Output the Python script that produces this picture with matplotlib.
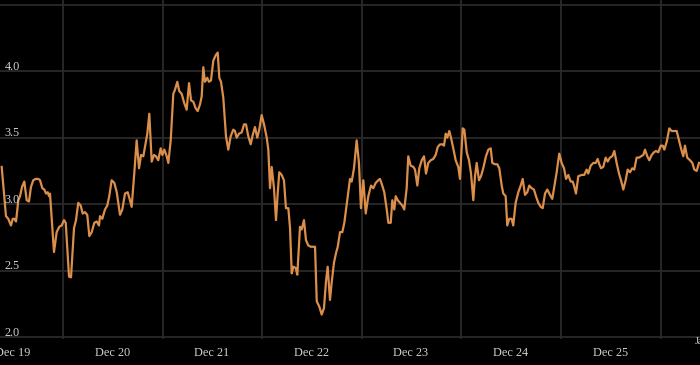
import matplotlib
matplotlib.use('Agg')
import matplotlib.pyplot as plt

# decimal year of each point and its value
dates = [
    2019.807, 2019.850, 2019.873, 2019.900, 2019.918, 2019.934, 2019.951, 2019.974, 2019.991,
    2020.011, 2020.034, 2020.058, 2020.081, 2020.101, 2020.124, 2020.148, 2020.175, 2020.192,
    2020.215, 2020.235, 2020.252, 2020.269, 2020.282, 2020.292, 2020.332, 2020.359, 2020.385,
    2020.409, 2020.433, 2020.450, 2020.483, 2020.503, 2020.533, 2020.553, 2020.576, 2020.600,
    2020.620, 2020.643, 2020.666, 2020.687, 2020.711, 2020.737, 2020.761, 2020.784, 2020.794,
    2020.817, 2020.844, 2020.867, 2020.887, 2020.911, 2020.938, 2020.962, 2020.995,
    2021.018, 2021.045, 2021.072, 2021.095, 2021.112, 2021.138, 2021.162, 2021.186, 2021.206,
    2021.229, 2021.253, 2021.269, 2021.289, 2021.313, 2021.336, 2021.356, 2021.379, 2021.403,
    2021.420, 2021.440, 2021.464, 2021.480, 2021.504, 2021.530, 2021.547, 2021.570, 2021.590,
    2021.614, 2021.640, 2021.664, 2021.688, 2021.708, 2021.731, 2021.755, 2021.775, 2021.798,
    2021.815, 2021.831, 2021.848, 2021.871, 2021.888, 2021.908, 2021.932, 2021.956, 2021.976,
    2021.992, 2022.009, 2022.032, 2022.059, 2022.082, 2022.106, 2022.132, 2022.149, 2022.166,
    2022.190, 2022.217, 2022.240, 2022.260, 2022.283, 2022.307, 2022.327, 2022.350, 2022.373,
    2022.393, 2022.417, 2022.441, 2022.468, 2022.484, 2022.501, 2022.518, 2022.541, 2022.561,
    2022.578, 2022.594, 2022.618, 2022.641, 2022.661, 2022.685, 2022.702, 2022.719, 2022.735,
    2022.759, 2022.775, 2022.802, 2022.819, 2022.842, 2022.862, 2022.885, 2022.909, 2022.953,
    2022.970, 2022.996, 2023.020, 2023.043, 2023.063, 2023.080, 2023.103, 2023.120, 2023.143,
    2023.163, 2023.181, 2023.204, 2023.227, 2023.247, 2023.281, 2023.304, 2023.321, 2023.344,
    2023.371, 2023.394, 2023.414, 2023.438, 2023.462, 2023.488, 2023.515, 2023.538, 2023.562,
    2023.588, 2023.605, 2023.628, 2023.648, 2023.673, 2023.689, 2023.713, 2023.729, 2023.749,
    2023.763, 2023.783, 2023.806, 2023.829, 2023.849, 2023.873, 2023.889, 2023.913, 2023.940,
    2023.957, 2023.980, 2024.000, 2024.024, 2024.047, 2024.067, 2024.090, 2024.114, 2024.140,
    2024.164, 2024.185, 2024.208, 2024.231, 2024.248, 2024.265, 2024.281, 2024.301, 2024.318,
    2024.341, 2024.365, 2024.391, 2024.408, 2024.436, 2024.452, 2024.476, 2024.499, 2024.519,
    2024.542, 2024.559, 2024.576, 2024.599, 2024.619, 2024.642, 2024.669, 2024.693, 2024.717,
    2024.733, 2024.760, 2024.783, 2024.803, 2024.827, 2024.843, 2024.867, 2024.883, 2024.903,
    2024.927, 2024.943, 2024.967, 2024.994, 2025.018, 2025.038, 2025.061, 2025.084, 2025.104,
    2025.128, 2025.151, 2025.171, 2025.195, 2025.219, 2025.239, 2025.262, 2025.285, 2025.312,
    2025.335, 2025.355, 2025.379, 2025.405, 2025.429, 2025.453, 2025.473, 2025.496, 2025.520,
    2025.540, 2025.553, 2025.573, 2025.596, 2025.630, 2025.656, 2025.680, 2025.696, 2025.721,
    2025.747, 2025.771, 2025.791, 2025.807, 2025.824, 2025.847, 2025.871, 2025.891, 2025.914,
    2025.937, 2025.958, 2025.981, 2026.005, 2026.025, 2026.048, 2026.072, 2026.092, 2026.115,
    2026.138, 2026.158, 2026.182, 2026.206, 2026.226, 2026.249, 2026.266, 2026.289, 2026.309,
    2026.333, 2026.356, 2026.376, 2026.399, 2026.424, 2026.444, 2026.460, 2026.484, 2026.510,
    2026.534, 2026.560, 2026.584, 2026.607, 2026.627, 2026.650, 2026.667, 2026.690, 2026.718,
    2026.741, 2026.761, 2026.785, 2026.808,
]
values = [
    3.28, 2.91, 2.89, 2.84, 2.89, 2.89, 2.87, 3.03, 3.06,
    3.13, 3.17, 3.03, 3.02, 3.13, 3.18, 3.19, 3.19, 3.18,
    3.12, 3.11, 3.08, 3.09, 3.06, 3.08, 2.64, 2.79, 2.83,
    2.84, 2.88, 2.86, 2.455, 2.45, 2.82, 2.88, 3.01, 2.99,
    2.93, 2.94, 2.92, 2.76, 2.79, 2.86, 2.87, 2.84, 2.91,
    2.89, 2.96, 2.99, 3.06, 3.18, 3.16, 3.09, 2.92,
    2.96, 3.08, 3.09, 3.03, 2.98, 3.23, 3.48, 3.27, 3.37,
    3.36, 3.46, 3.53, 3.68, 3.32, 3.37, 3.36, 3.33, 3.42,
    3.37, 3.41, 3.36, 3.31, 3.48, 3.83, 3.86, 3.92, 3.85,
    3.83, 3.76, 3.71, 3.91, 3.78, 3.77, 3.72, 3.70, 3.75,
    3.81, 4.03, 3.92, 3.95, 3.92, 3.93, 4.08, 4.12, 4.14,
    3.95, 3.92, 3.80, 3.51, 3.41, 3.51, 3.56, 3.55, 3.50,
    3.53, 3.54, 3.60, 3.60, 3.51, 3.45, 3.52, 3.58, 3.50,
    3.56, 3.67, 3.60, 3.50, 3.41, 3.12, 3.28, 3.12, 2.88,
    3.08, 3.24, 3.22, 3.18, 2.97, 2.97, 2.82, 2.48, 2.53,
    2.52, 2.47, 2.83, 2.81, 2.88, 2.73, 2.69, 2.68, 2.68,
    2.27, 2.23, 2.17, 2.22, 2.42, 2.53, 2.28, 2.41, 2.56,
    2.63, 2.68, 2.79, 2.79, 2.86, 3.06, 3.19, 3.17, 3.27,
    3.48, 3.31, 2.97, 3.18, 2.93, 3.06, 3.14, 3.12, 3.16,
    3.18, 3.19, 3.14, 3.09, 2.96, 2.86, 2.86, 3.03, 2.96,
    3.06, 3.03, 3.01, 2.99, 2.96, 3.12, 3.36, 3.29, 3.28,
    3.26, 3.14, 3.27, 3.33, 3.36, 3.23, 3.31, 3.33, 3.34,
    3.37, 3.43, 3.45, 3.45, 3.44, 3.53, 3.50, 3.55, 3.50,
    3.42, 3.33, 3.28, 3.19, 3.57, 3.56, 3.39, 3.33, 3.23,
    3.03, 3.21, 3.31, 3.18, 3.21, 3.27, 3.36, 3.41, 3.42,
    3.31, 3.30, 3.30, 3.27, 3.14, 3.08, 3.06, 2.84, 2.89,
    2.89, 2.84, 3.01, 3.09, 3.14, 3.19, 3.07, 3.09, 3.14,
    3.12, 3.11, 3.06, 3.01, 2.98, 2.97, 3.08, 3.11, 3.07,
    3.04, 3.13, 3.24, 3.38, 3.31, 3.27, 3.19, 3.22, 3.17,
    3.17, 3.14, 3.08, 3.21, 3.22, 3.22, 3.26, 3.23, 3.29,
    3.31, 3.31, 3.34, 3.30, 3.27, 3.28, 3.35, 3.32, 3.35,
    3.36, 3.40, 3.31, 3.23, 3.18, 3.11, 3.18, 3.26, 3.24,
    3.27, 3.26, 3.35, 3.35, 3.36, 3.37, 3.41, 3.36, 3.33,
    3.37, 3.39, 3.40, 3.39, 3.44, 3.44, 3.41, 3.47, 3.57,
    3.55, 3.55, 3.55, 3.48, 3.42, 3.36, 3.44, 3.35, 3.33,
    3.31, 3.26, 3.25, 3.31,
]

label_pos = [2019.916, 2020.916, 2021.916, 2022.916, 2023.916, 2024.916, 2025.916]
label_txt = ['Dec 19', 'Dec 20', 'Dec 21', 'Dec 22', 'Dec 23', 'Dec 24', 'Dec 25']
grid_x = [2020.422, 2021.422, 2022.422, 2023.422, 2024.422, 2025.422, 2026.422]
y_ticks = [2.0, 2.5, 3.0, 3.5, 4.0, 4.5]

font = 'Liberation Serif'
txt_col = '#cfcfcf'
grid_col = '#2a2a2a'

fig = plt.figure(figsize=(7, 3.65), dpi=100, facecolor='black')
ax = fig.add_axes([0, 26 / 365, 1, 339 / 365])
ax.set_facecolor('black')

ax.plot(dates, values, color='#dc8e4b', lw=1.6, solid_joinstyle='round', zorder=3)

ax.set_xlim(2019.79, 2019.79 + 700 / 99.6)
ax.set_ylim(1.9865, 4.535)

ax.set_xticks(grid_x)
ax.set_xticklabels([''] * len(grid_x))
ax.set_xticks(label_pos, minor=True)
ax.set_xticklabels(label_txt, minor=True, fontfamily=font, fontsize=8.8, color=txt_col)
ax.set_yticks(y_ticks)
ax.set_yticklabels([])
ax.tick_params(which='both', length=0)
ax.tick_params(axis='x', which='minor', pad=5.5)
ax.grid(True, which='major', color=grid_col, lw=1.3)
for s in ax.spines.values():
    s.set_visible(False)

for v in y_ticks[:-1]:
    ax.text(0.007, v + 0.01, f'{v:.1f}', transform=ax.get_yaxis_transform(),
            ha='left', va='baseline', fontfamily=font, fontsize=8.8, color=txt_col)

fig.text(695 / 700, 1 - 337 / 365, 'Jan', ha='left', va='top',
         fontfamily=font, fontsize=7, color=txt_col)

fig.savefig('out.png', dpi=100, facecolor='black')
